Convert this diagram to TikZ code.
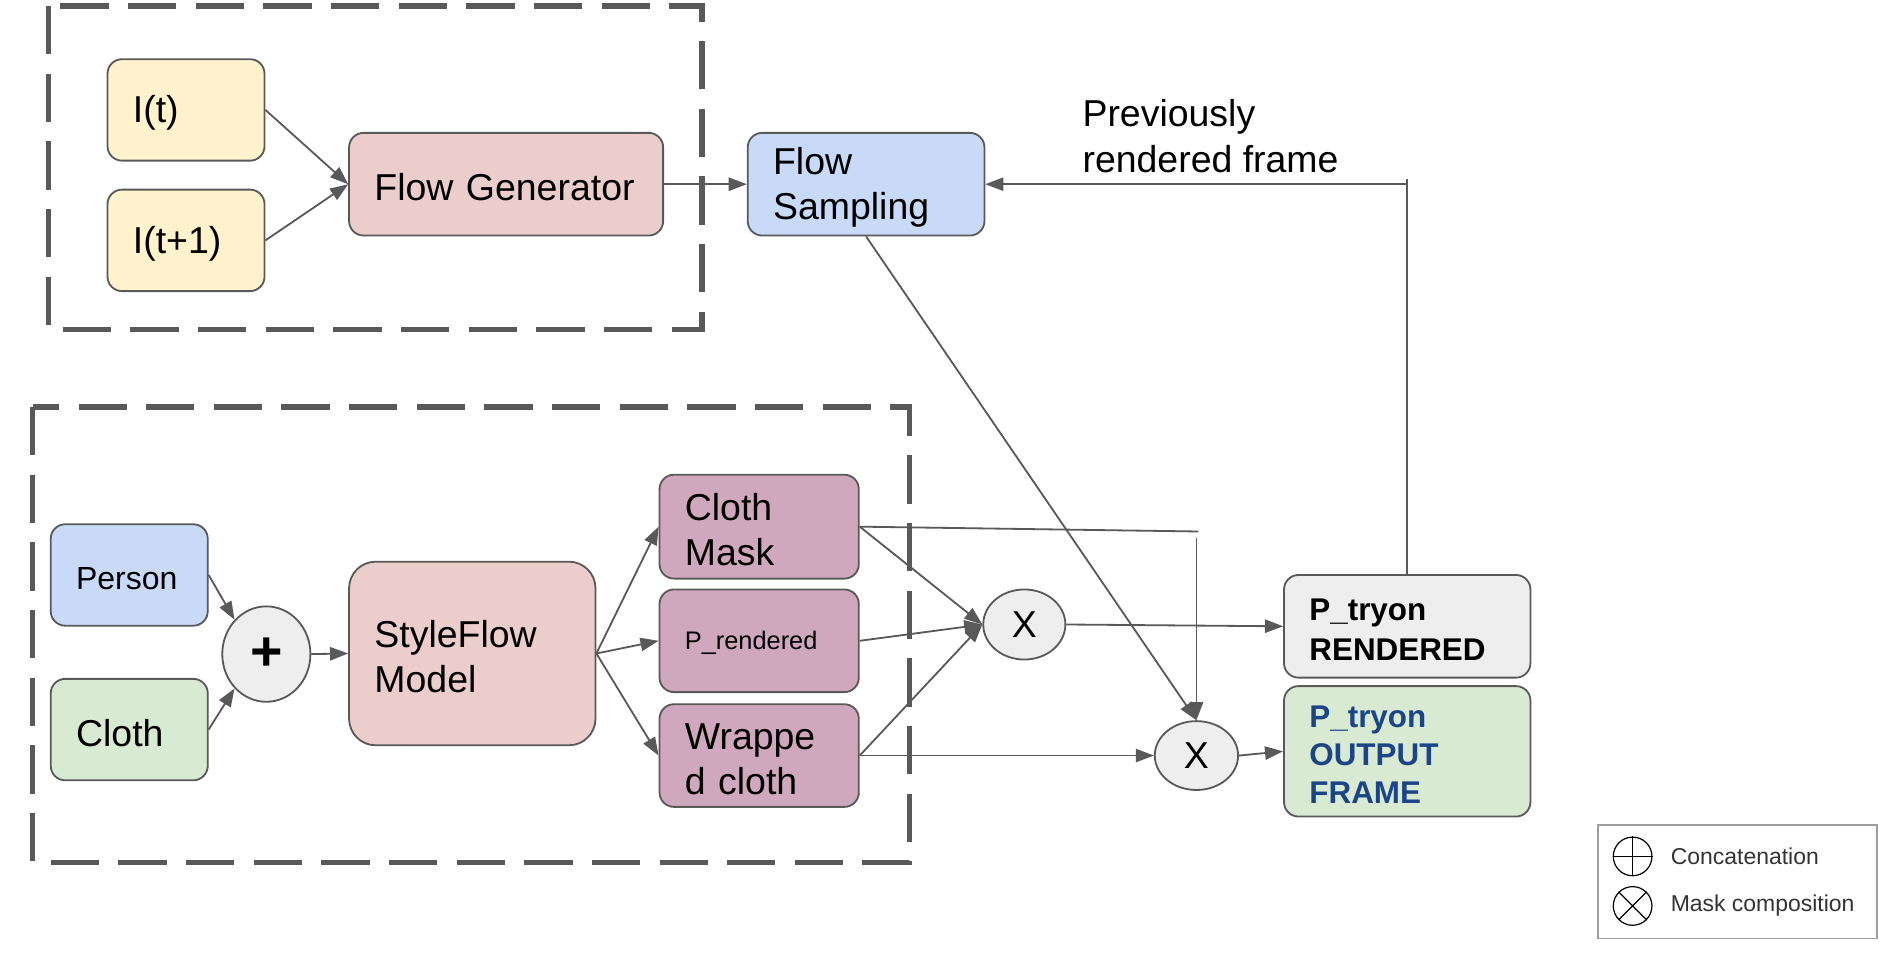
\documentclass[tikz,border=0pt]{standalone}
\usepackage{fontspec}
\setmainfont{Liberation Sans}
\usetikzlibrary{arrows.meta,shapes.geometric}
\definecolor{yel}{HTML}{FFF2CC}
\definecolor{pnk}{HTML}{EBCDCC}
\definecolor{blu}{HTML}{C9DAF8}
\definecolor{grn}{HTML}{D9EAD3}
\definecolor{mve}{HTML}{D0A8BD}
\definecolor{opgray}{HTML}{EEEEEE}
\definecolor{dblue}{HTML}{1C4587}
\definecolor{lg}{HTML}{595959}
\definecolor{leggray}{HTML}{9E9E9E}
\definecolor{legtext}{HTML}{333333}
\tikzset{
  box/.style={draw=lg, line width=1.5pt, rounded corners=12pt, inner xsep=21pt, inner ysep=0pt, align=left, font=\fontsize{31}{37}\selectfont, text=black, execute at begin node={\rule{0pt}{0.9em}}},
  op/.style={ellipse, draw=lg, line width=1.5pt, fill=opgray, inner sep=0pt, font=\fontsize{31}{37}\selectfont},
  arr/.style={draw=lg, line width=1.5pt, -{Triangle[length=15pt,width=11pt]}},
  ln/.style={draw=lg, line width=1.5pt},
  group/.style={draw=lg, line width=4.5pt, dash pattern=on 40pt off 16pt},
  legsym/.style={circle, draw=black, line width=1pt, minimum size=32pt, inner sep=0pt},
  legtxt/.style={anchor=west, inner sep=0pt, font=\fontsize{19}{23}\selectfont, text=legtext},
}
\begin{document}
\begin{tikzpicture}[x=1pt,y=-1pt]
\fill[white] (0,0) rectangle (1568,790);
\useasboundingbox (0,0) rectangle (1568,790);

% dashed groups
\draw[group] (40,5) rectangle (581,273);
\draw[group] (27,337) rectangle (753,714);

% nodes
\node[box, fill=yel, text width=88pt, minimum height=84pt] (It) at (154,91) {I(t)};
\node[box, fill=yel, text width=88pt, minimum height=84pt] (It1) at (154,199) {I(t+1)};
\node[box, fill=pnk, text width=218pt, minimum height=85pt] (FG) at (419,152.5) {Flow~Generator};
\node[box, fill=blu, text width=154pt, minimum height=85pt] (FS) at (717,152.5) {Flow\\Sampling};
\node[box, fill=blu, text width=88pt, minimum height=84pt, font=\fontsize{26.5}{32}\selectfont] (Person) at (107,476) {Person};
\node[box, fill=grn, text width=88pt, minimum height=84pt] (Cloth) at (107,604) {Cloth};
\node[op, minimum width=73pt, minimum height=79pt, font=\bfseries\fontsize{46}{50}\selectfont] (plus) at (220.5,541.5) {+};
\node[box, fill=pnk, rounded corners=22pt, text width=162pt, minimum height=152pt] (SF) at (391,541) {StyleFlow\\Model};
\node[box, fill=mve, text width=123pt, minimum height=86pt] (CM) at (628.5,436) {Cloth\\Mask};
\node[box, fill=mve, text width=123pt, minimum height=85pt, font=\fontsize{21}{25}\selectfont] (PR) at (628.5,530.5) {P\_rendered};
\node[box, fill=mve, text width=123pt, minimum height=85pt] (WC) at (628.5,625.5) {Wrappe\\d cloth};
\node[op, minimum width=68pt, minimum height=58pt] (X1) at (848,517) {X};
\node[op, minimum width=69pt, minimum height=57pt] (X2) at (990.5,625.5) {X};
\node[box, fill=opgray, text width=162pt, minimum height=85pt, font=\bfseries\fontsize{26}{33}\selectfont] (PTR) at (1165,518.5) {P\_tryon\\RENDERED};
\node[box, fill=grn, text=dblue, text width=162pt, minimum height=108pt, font=\bfseries\fontsize{26}{31.5}\selectfont] (PTO) at (1165,622) {P\_tryon\\OUTPUT\\FRAME};
\node[anchor=west, align=left, inner sep=0pt, font=\fontsize{31}{38}\selectfont] (prev) at (896,113) {Previously\\rendered frame};

% connectors
\draw[arr] (It.east) -- (FG.west);
\draw[arr] (It1.east) -- (FG.west);
\draw[arr] (FG.east) -- (FS.west);
\coordinate (fbtick) at (1165,148);
\draw[ln] (PTR.north) -- (fbtick);
\draw[arr] (PTR.north) |- (FS.east);
\draw[arr] (FS.south) -- (X2.north);
\coordinate (cmend) at (992,440);
\coordinate (droptop) at (990.5,445);
\draw[ln] (CM.east) -- (cmend);
\draw[arr] (droptop) -- (X2.north);
\draw[arr] (CM.east) -- (X1.west);
\draw[arr] (PR.east) -- (X1.west);
\draw[arr] (WC.east) -- (X1.west);
\draw[arr] (WC.east) -- (X2.west);
\draw[arr] (X1.east) -- (PTR.west);
\draw[arr] (X2.east) -- (PTO.west);
\draw[arr] (plus.east) -- (SF.west);
\draw[arr] (Person.east) -- (plus.north west);
\draw[arr] (Cloth.east) -- (plus.south west);
\draw[arr] (SF.east) -- (CM.west);
\draw[arr] (SF.east) -- (PR.west);
\draw[arr] (SF.east) -- (WC.west);

% legend
\node[draw=leggray, line width=1.5pt, fill=white, minimum width=231pt, minimum height=94pt, inner sep=0pt] (legend) at (1438.5,730) {};
\node[legsym] (lc) at (1351.6,709) {};
\draw[line width=1pt] (lc.north) -- (lc.south) (lc.west) -- (lc.east);
\node[legsym] (lm) at (1351.6,750) {};
\draw[line width=1pt] (lm.north west) -- (lm.south east) (lm.north east) -- (lm.south west);
\node[legtxt] (lct) at (1383,709) {Concatenation};
\node[legtxt] (lmt) at (1383,750) {Mask composition};
\end{tikzpicture}
\end{document}
